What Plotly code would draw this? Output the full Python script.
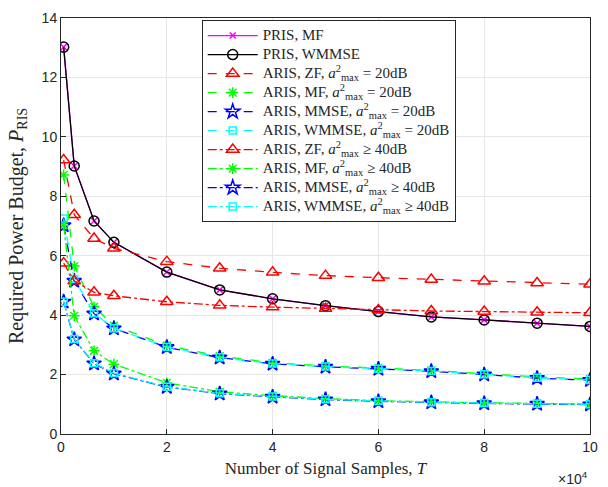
import plotly.graph_objects as go

# ---- data ----
T = [500, 2500, 6250, 10000, 20000, 30000, 40000, 50000, 60000, 70000, 80000, 90000, 100000]

pris_mf     = [13.02, 9.02, 7.17, 6.45, 5.45, 4.85, 4.55, 4.32, 4.12, 3.94, 3.84, 3.73, 3.62]
pris_wmmse  = [13.02, 9.02, 7.17, 6.45, 5.45, 4.85, 4.55, 4.32, 4.12, 3.94, 3.84, 3.73, 3.62]

zf_20    = [9.22, 7.38, 6.58, 6.25, 5.80, 5.58, 5.44, 5.33, 5.26, 5.20, 5.14, 5.08, 5.04]
mf_20    = [8.72, 5.65, 4.28, 3.65, 2.98, 2.62, 2.40, 2.29, 2.22, 2.14, 2.03, 1.92, 1.85]
mmse_20  = [7.02, 5.15, 4.05, 3.55, 2.92, 2.57, 2.36, 2.26, 2.19, 2.11, 2.00, 1.88, 1.81]
wmmse_20 = [7.25, 5.22, 4.06, 3.56, 2.93, 2.58, 2.37, 2.27, 2.20, 2.12, 2.01, 1.89, 1.82]

zf_40    = [5.75, 5.15, 4.77, 4.65, 4.45, 4.33, 4.27, 4.22, 4.17, 4.14, 4.12, 4.10, 4.08]
mf_40    = [7.02, 3.98, 2.80, 2.35, 1.72, 1.42, 1.29, 1.19, 1.12, 1.08, 1.05, 1.03, 1.00]
mmse_40  = [4.45, 3.18, 2.37, 2.03, 1.58, 1.36, 1.25, 1.16, 1.10, 1.06, 1.03, 1.01, 0.99]
wmmse_40 = [4.45, 3.20, 2.38, 2.05, 1.59, 1.37, 1.26, 1.17, 1.11, 1.07, 1.04, 1.02, 1.00]

names = [
    "PRIS, MF",
    "PRIS, WMMSE",
    "ARIS, ZF, <i>a</i><sup>2</sup><sub>max</sub> = 20dB",
    "ARIS, MF, <i>a</i><sup>2</sup><sub>max</sub> = 20dB",
    "ARIS, MMSE, <i>a</i><sup>2</sup><sub>max</sub> = 20dB",
    "ARIS, WMMSE, <i>a</i><sup>2</sup><sub>max</sub> = 20dB",
    "ARIS, ZF, <i>a</i><sup>2</sup><sub>max</sub> \u2265 40dB",
    "ARIS, MF, <i>a</i><sup>2</sup><sub>max</sub> \u2265 40dB",
    "ARIS, MMSE, <i>a</i><sup>2</sup><sub>max</sub> \u2265 40dB",
    "ARIS, WMMSE, <i>a</i><sup>2</sup><sub>max</sub> \u2265 40dB",
]
series = [pris_mf, pris_wmmse, zf_20, mf_20, mmse_20, wmmse_20, zf_40, mf_40, mmse_40, wmmse_40]
colors = ["#FF00FF", "#000000", "#FF0000", "#00FF00", "#0000FF", "#00FFFF",
          "#FF0000", "#00FF00", "#0000FF", "#00FFFF"]
dashes = ["solid", "solid", "dash", "dash", "dash", "dash",
          "dashdot", "dashdot", "dashdot", "dashdot"]
symbols = ["x-thin-open", "circle-open", "triangle-up-open", "asterisk-open", "star-open", "square-open",
           "triangle-up-open", "asterisk-open", "star-open", "square-open"]
sizes = [6, 10, 11, 9, 11, 7, 11, 9, 11, 7]

fig = go.Figure()
for y, n, c, d, s, ms in zip(series, names, colors, dashes, symbols, sizes):
    fig.add_trace(go.Scatter(
        x=T, y=y, name='<span style="font-size:15px">' + n + '</span>', mode="lines+markers",
        line=dict(color=c, width=1.3, dash=d),
        marker=dict(symbol=s, size=ms, color=c, line=dict(color=c, width=1.5)),
    ))

tick_font = dict(family="Liberation Sans, Arial, sans-serif", size=14, color="#262626")
title_font = dict(family="Liberation Serif, Times New Roman, serif", size=17, color="#262626")

fig.update_layout(
    width=608, height=487,
    margin=dict(l=61, r=10, t=12, b=53),
    paper_bgcolor="white", plot_bgcolor="white",
    showlegend=True,
    legend=dict(
        x=0.266, y=0.995, xanchor="left", yanchor="top",
        bgcolor="white", bordercolor="#262626", borderwidth=1,
        font=dict(family="Liberation Serif, Times New Roman, serif", size=12, color="#262626"),
        itemwidth=50, tracegroupgap=0,
    ),
    xaxis=dict(
        range=[0, 100000], tickvals=[0, 20000, 40000, 60000, 80000, 100000],
        ticktext=["0", "2", "4", "6", "8", "10"],
        showgrid=True, gridcolor="#E6E6E6", gridwidth=1,
        showline=True, linecolor="#262626", linewidth=1, mirror=True,
        ticks="inside", ticklen=5, tickcolor="#262626",
        zeroline=False, tickfont=tick_font,
        title=dict(text="Number of Signal Samples, <i>T</i>", font=title_font, standoff=8),
    ),
    yaxis=dict(
        range=[0, 14], tickvals=[0, 2, 4, 6, 8, 10, 12, 14],
        showgrid=True, gridcolor="#E6E6E6", gridwidth=1,
        showline=True, linecolor="#262626", linewidth=1, mirror=True,
        ticks="inside", ticklen=5, tickcolor="#262626",
        zeroline=False, tickfont=tick_font,
        title=dict(text="Required Power Budget, <i>P</i><sub>RIS</sub>",
                   font=dict(family="Liberation Serif, Times New Roman, serif", size=20, color="#262626"),
                   standoff=12),
    ),
    annotations=[dict(
        text="\u00d710<sup>4</sup>", xref="paper", yref="paper", x=1.0, y=-0.079,
        xanchor="right", yanchor="top", showarrow=False, font=tick_font,
    )],
)

fig.write_html("out.html")
